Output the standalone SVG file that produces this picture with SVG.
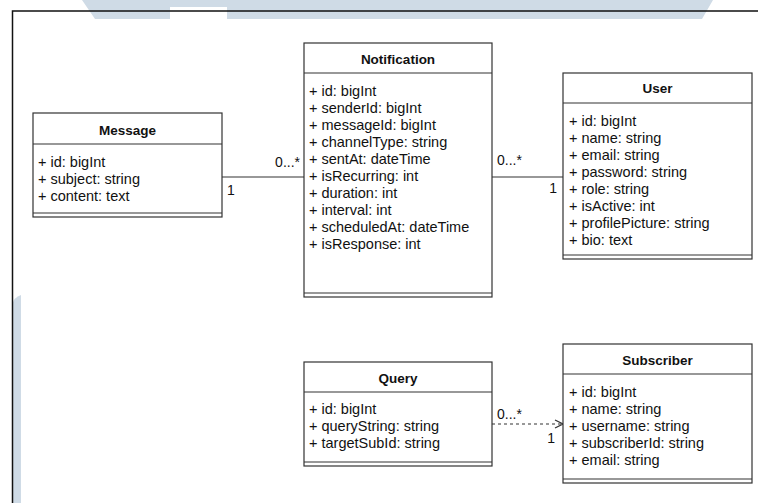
<svg xmlns="http://www.w3.org/2000/svg" width="758" height="503" viewBox="0 0 758 503">
  <style>
    .box { fill: #ffffff; stroke: #333333; stroke-width: 1.2; }
    .sep { stroke: #333333; stroke-width: 1.2; fill: none; }
    .title { font-family: "Liberation Sans", Arial, sans-serif; font-size: 13.5px; font-weight: bold; fill: #111111; text-anchor: middle; }
    .attr { font-family: "Liberation Sans", Arial, sans-serif; font-size: 14.5px; fill: #111111; }
    .mult { font-family: "Liberation Sans", Arial, sans-serif; font-size: 14px; fill: #111111; }
    .edge { stroke: #333333; stroke-width: 1.2; fill: none; }
    .dashed { stroke-dasharray: 3 3; }
  </style>
  <defs>
    <marker id="open-arrow" viewBox="0 0 10 10" refX="9" refY="5" markerWidth="10" markerHeight="10" markerUnits="userSpaceOnUse" orient="auto">
      <path d="M1,1 L9,5 L1,9" fill="none" stroke="#333333" stroke-width="1.2"/>
    </marker>
  </defs>

  <rect x="0" y="0" width="758" height="503" fill="#ffffff"/>

  <!-- background bands -->
  <g id="backdrop" fill="#cfdbe6">
    <path d="M82,0 L713,0 L702,19 L227,19 L227,7 L170,7 L170,19 L95,19 Z"/>
    <path d="M12,503 L12,305 Q14,297 21,295 L21,503 Z"/>
  </g>

  <!-- page frame -->
  <g id="frame" stroke="#111111" stroke-width="1.5" fill="none">
    <path d="M758,11 L12.5,11 L12.5,503"/>
  </g>

  <!-- connectors -->
  <g id="connectors">
    <line class="edge" x1="222" y1="177" x2="304" y2="177"/>
    <text class="mult" x="300" y="167" text-anchor="end">0...*</text>
    <text class="mult" x="227" y="195">1</text>

    <line class="edge" x1="492" y1="177" x2="563" y2="177"/>
    <text class="mult" x="497" y="165">0...*</text>
    <text class="mult" x="557" y="193" text-anchor="end">1</text>

    <line class="edge dashed" x1="492" y1="424" x2="563" y2="424" marker-end="url(#open-arrow)"/>
    <text class="mult" x="497" y="419">0...*</text>
    <text class="mult" x="555" y="443" text-anchor="end">1</text>
  </g>

  <!-- Message -->
  <g id="message">
    <rect class="box" x="33" y="113" width="189" height="104"/>
    <line class="sep" x1="33" y1="144" x2="222" y2="144"/>
    <line class="sep" x1="33" y1="213" x2="222" y2="213"/>
    <text class="title" x="127.5" y="135">Message</text>
    <text class="attr" x="38" y="167">+ id: bigInt</text>
    <text class="attr" x="38" y="184">+ subject: string</text>
    <text class="attr" x="38" y="201">+ content: text</text>
  </g>

  <!-- Notification -->
  <g id="notification">
    <rect class="box" x="304" y="43" width="188" height="254"/>
    <line class="sep" x1="304" y1="73" x2="492" y2="73"/>
    <line class="sep" x1="304" y1="293" x2="492" y2="293"/>
    <text class="title" x="398" y="64">Notification</text>
    <text class="attr" x="309" y="96">+ id: bigInt</text>
    <text class="attr" x="309" y="113">+ senderId: bigInt</text>
    <text class="attr" x="309" y="130">+ messageId: bigInt</text>
    <text class="attr" x="309" y="147">+ channelType: string</text>
    <text class="attr" x="309" y="164">+ sentAt: dateTime</text>
    <text class="attr" x="309" y="181">+ isRecurring: int</text>
    <text class="attr" x="309" y="198">+ duration: int</text>
    <text class="attr" x="309" y="215">+ interval: int</text>
    <text class="attr" x="309" y="232">+ scheduledAt: dateTime</text>
    <text class="attr" x="309" y="249">+ isResponse: int</text>
  </g>

  <!-- User -->
  <g id="user">
    <rect class="box" x="563" y="73" width="189" height="186"/>
    <line class="sep" x1="563" y1="103" x2="752" y2="103"/>
    <line class="sep" x1="563" y1="255" x2="752" y2="255"/>
    <text class="title" x="657.5" y="93">User</text>
    <text class="attr" x="569" y="126">+ id: bigInt</text>
    <text class="attr" x="569" y="143">+ name: string</text>
    <text class="attr" x="569" y="160">+ email: string</text>
    <text class="attr" x="569" y="177">+ password: string</text>
    <text class="attr" x="569" y="194">+ role: string</text>
    <text class="attr" x="569" y="211">+ isActive: int</text>
    <text class="attr" x="569" y="228">+ profilePicture: string</text>
    <text class="attr" x="569" y="245">+ bio: text</text>
  </g>

  <!-- Query -->
  <g id="query">
    <rect class="box" x="304" y="362" width="188" height="104"/>
    <line class="sep" x1="304" y1="392" x2="492" y2="392"/>
    <line class="sep" x1="304" y1="462" x2="492" y2="462"/>
    <text class="title" x="398" y="383">Query</text>
    <text class="attr" x="309" y="414">+ id: bigInt</text>
    <text class="attr" x="309" y="431">+ queryString: string</text>
    <text class="attr" x="309" y="448">+ targetSubId: string</text>
  </g>

  <!-- Subscriber -->
  <g id="subscriber">
    <rect class="box" x="563" y="344" width="189" height="139"/>
    <line class="sep" x1="563" y1="374" x2="752" y2="374"/>
    <line class="sep" x1="563" y1="479" x2="752" y2="479"/>
    <text class="title" x="657.5" y="365">Subscriber</text>
    <text class="attr" x="569" y="397">+ id: bigInt</text>
    <text class="attr" x="569" y="414">+ name: string</text>
    <text class="attr" x="569" y="431">+ username: string</text>
    <text class="attr" x="569" y="448">+ subscriberId: string</text>
    <text class="attr" x="569" y="465">+ email: string</text>
  </g>
</svg>
